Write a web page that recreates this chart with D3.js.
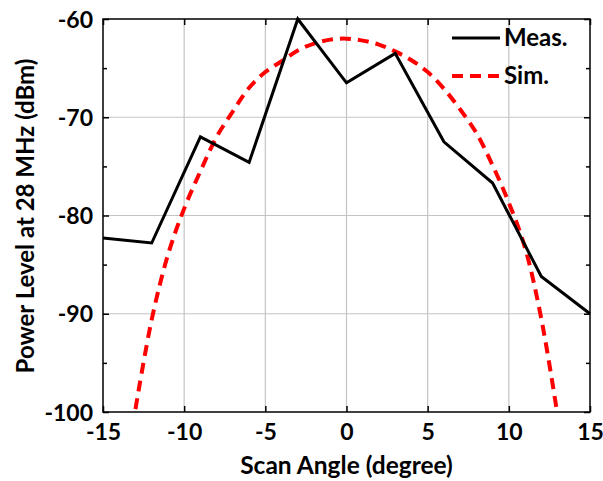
<!DOCTYPE html>
<html>
<head>
<meta charset="utf-8">
<script src="https://cdn.jsdelivr.net/npm/d3@7"></script>
<style>
  body { margin: 0; background: #fff; }
  text { font-family: Lato, "Open Sans", sans-serif; font-weight: bold; }
</style>
</head>
<body>
<div id="chart"></div>
<script>
// measured power vs scan angle
var measAngle = [-15, -12, -9, -6, -3, 0, 3, 6, 9, 12, 15];
var measPower = [-82.3, -82.8, -72.0, -74.6, -60.0, -66.5, -63.5, -72.5, -76.7, -86.2, -90.0];

// simulated pattern
var simAngle = [-13, -12, -11, -10, -9, -8, -7, -6, -5, -4, -3, -2, -1, 0, 1, 2, 3, 4, 5, 6, 7, 8, 9, 10, 11, 12, 13];
var simPower = [-99.7, -90.6, -84.0, -79.3, -75.5, -72.0, -69.4, -67.0, -65.4, -64.3, -63.2, -62.5, -62.1, -62.0,
                -62.2, -62.6, -63.3, -64.2, -65.4, -67.1, -69.2, -71.6, -74.9, -78.7, -83.3, -90.5, -100.3];

var xTicks = [-15, -10, -5, 0, 5, 10, 15];
var yTicks = [-100, -90, -80, -70, -60];
var yMinor = [-95, -85, -75, -65];

var width = 603, height = 481;
var pLeft = 103, pRight = 590, pTop = 19, pBottom = 412;

var svg = d3.select('#chart').append('svg')
    .attr('width', width)
    .attr('height', height);

var x = d3.scaleLinear().domain([-15, 15]).range([pLeft, pRight]);
var y = d3.scaleLinear().domain([-100, -60]).range([pBottom, pTop]);
var fmt = d => String(d);

// grid
svg.append('g').selectAll('line')
    .data(xTicks.slice(1, -1)).join('line')
    .attr('x1', d => x(d)).attr('x2', d => x(d))
    .attr('y1', pTop).attr('y2', pBottom)
    .attr('stroke', '#c4c4c4').attr('stroke-width', 1.2);
svg.append('g').selectAll('line')
    .data(yTicks.slice(1, -1)).join('line')
    .attr('x1', pLeft).attr('x2', pRight)
    .attr('y1', d => y(d)).attr('y2', d => y(d))
    .attr('stroke', '#c4c4c4').attr('stroke-width', 1.2);

// axes
var xAxis = svg.append('g')
    .attr('transform', 'translate(0,' + pBottom + ')')
    .call(d3.axisBottom(x).tickValues(xTicks).tickFormat(fmt).tickSizeInner(-6).tickSizeOuter(0).tickPadding(12));
var yAxis = svg.append('g')
    .attr('transform', 'translate(' + pLeft + ',0)')
    .call(d3.axisLeft(y).tickValues(yTicks).tickFormat(fmt).tickSizeInner(-6).tickSizeOuter(0).tickPadding(10));
svg.append('g')
    .attr('transform', 'translate(0,' + pTop + ')')
    .call(d3.axisTop(x).tickValues(xTicks).tickSizeInner(-6).tickSizeOuter(0).tickFormat(''));
svg.append('g')
    .attr('transform', 'translate(' + pRight + ',0)')
    .call(d3.axisRight(y).tickValues(yTicks).tickSizeInner(-6).tickSizeOuter(0).tickFormat(''));
svg.append('g')
    .attr('transform', 'translate(' + pLeft + ',0)')
    .call(d3.axisLeft(y).tickValues(yMinor).tickSizeInner(-4).tickSizeOuter(0).tickFormat(''));
svg.append('g')
    .attr('transform', 'translate(' + pRight + ',0)')
    .call(d3.axisRight(y).tickValues(yMinor).tickSizeInner(-4).tickSizeOuter(0).tickFormat(''));

svg.selectAll('.domain').remove();
svg.selectAll('.tick line').attr('stroke', '#000').attr('stroke-width', 1.5);
xAxis.selectAll('text').attr('font-size', '23px').attr('fill', '#000');
yAxis.selectAll('text').attr('font-size', '23px').attr('fill', '#000').attr('dy', '0.35em');

svg.append('rect')
    .attr('x', pLeft).attr('y', pTop)
    .attr('width', pRight - pLeft).attr('height', pBottom - pTop)
    .attr('fill', 'none').attr('stroke', '#000').attr('stroke-width', 1.5);

// clip
svg.append('clipPath').attr('id', 'clip')
    .append('rect').attr('x', pLeft).attr('y', pTop - 2)
    .attr('width', pRight - pLeft).attr('height', pBottom - pTop + 2);

var simLine = d3.line()
    .x((d, i) => x(simAngle[i]))
    .y(d => y(d))
    .curve(d3.curveCatmullRom);
svg.append('path')
    .datum(simPower)
    .attr('clip-path', 'url(#clip)')
    .attr('d', simLine)
    .attr('fill', 'none')
    .attr('stroke', '#ff0000')
    .attr('stroke-width', 4)
    .attr('stroke-dasharray', '11,7');

var measLine = d3.line()
    .x((d, i) => x(measAngle[i]))
    .y(d => y(d));
svg.append('path')
    .datum(measPower)
    .attr('d', measLine)
    .attr('fill', 'none')
    .attr('stroke', '#000')
    .attr('stroke-width', 3)
    .attr('stroke-linejoin', 'miter');

// legend
var legend = svg.append('g');
legend.append('line')
    .attr('x1', 452).attr('x2', 500).attr('y1', 38).attr('y2', 38)
    .attr('stroke', '#000').attr('stroke-width', 3);
legend.append('text')
    .attr('x', 504).attr('y', 38).attr('dy', '0.35em')
    .attr('font-size', '24px').text('Meas.');
legend.append('line')
    .attr('x1', 452).attr('x2', 500).attr('y1', 76).attr('y2', 76)
    .attr('stroke', '#ff0000').attr('stroke-width', 4)
    .attr('stroke-dasharray', '11,7');
legend.append('text')
    .attr('x', 504).attr('y', 76).attr('dy', '0.35em')
    .attr('font-size', '24px').text('Sim.');

// axis titles
svg.append('text')
    .attr('x', (pLeft + pRight) / 2).attr('y', 474)
    .attr('text-anchor', 'middle')
    .attr('font-size', '24.5px')
    .text('Scan Angle (degree)');
svg.append('text')
    .attr('transform', 'translate(34,' + 216 + ') rotate(-90)')
    .attr('text-anchor', 'middle')
    .attr('font-size', '24px')
    .text('Power Level at 28 MHz (dBm)');
</script>
</body>
</html>
